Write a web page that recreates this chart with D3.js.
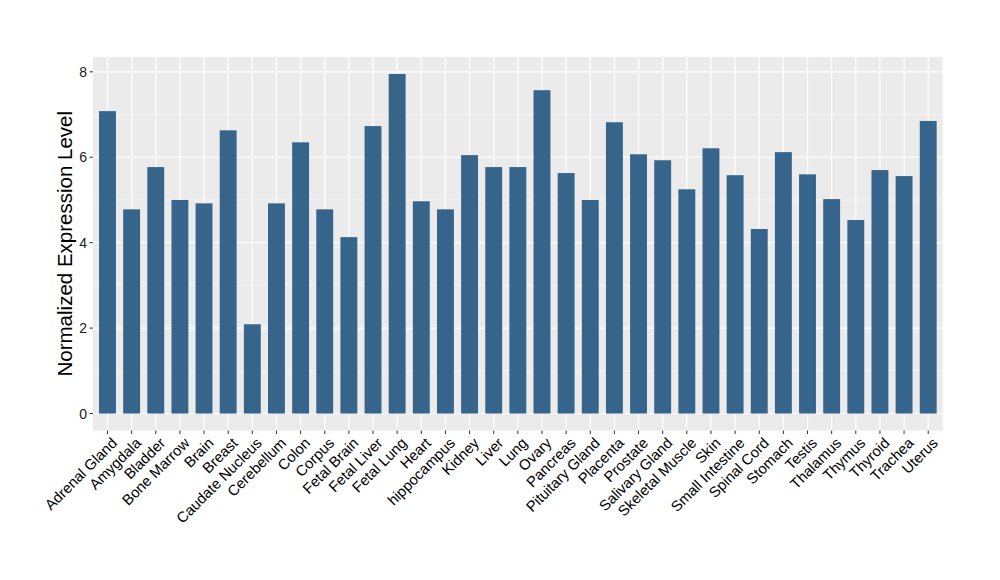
<!DOCTYPE html>
<html><head><meta charset="utf-8">
<script src="https://cdn.jsdelivr.net/npm/d3@7"></script>
<style>body{margin:0;background:#fff}svg{display:block}text{font-family:"Liberation Sans",Arial,sans-serif}</style>
</head><body><svg id="c" width="1000" height="580"></svg>
<script>
const categories = ["Adrenal Gland","Amygdala","Bladder","Bone Marrow","Brain","Breast","Caudate Nucleus","Cerebellum","Colon","Corpus","Fetal Brain","Fetal Liver","Fetal Lung","Heart","hippocampus","Kidney","Liver","Lung","Ovary","Pancreas","Pituitary Gland","Placenta","Prostate","Salivary Gland","Skeletal Muscle","Skin","Small Intestine","Spinal Cord","Stomach","Testis","Thalamus","Thymus","Thyroid","Trachea","Uterus"];
const values = [7.08,4.78,5.77,5.00,4.92,6.63,2.09,4.92,6.35,4.78,4.13,6.73,7.95,4.97,4.78,6.05,5.77,5.77,7.57,5.63,5.00,6.82,6.07,5.93,5.25,6.21,5.58,4.32,6.12,5.60,5.02,4.53,5.70,5.56,6.85];
const yTicks = [0,2,4,6,8];
const yMinor = [1,3,5,7];
const yTitle = "Normalized Expression Level";

const svg = d3.select("#c");
const L = 93, R = 942.7, T = 57, B = 430.5;
const maxV = d3.max(values);
const pad = maxV * 0.05;
const y = d3.scaleLinear().domain([-pad, maxV + pad]).range([B, T]);
const n = categories.length;
const x = d3.scaleLinear().domain([-0.6, n - 1 + 0.6]).range([L, R]);
const step = x(1) - x(0);

svg.append("rect").attr("x", L).attr("y", T).attr("width", R - L).attr("height", B - T).attr("fill", "#EBEBEB");
svg.selectAll(".ymin").data(yMinor).join("line").attr("x1", L).attr("x2", R)
  .attr("y1", d => y(d)).attr("y2", d => y(d)).attr("stroke", "#fff").attr("stroke-width", 0.6);
svg.selectAll(".ymaj").data(yTicks).join("line").attr("x1", L).attr("x2", R)
  .attr("y1", d => y(d)).attr("y2", d => y(d)).attr("stroke", "#fff").attr("stroke-width", 1.2);
svg.selectAll(".xmaj").data(categories).join("line").attr("y1", T).attr("y2", B)
  .attr("x1", (d, i) => x(i)).attr("x2", (d, i) => x(i)).attr("stroke", "#fff").attr("stroke-width", 1.2);

const bw = step * 0.7;
svg.selectAll(".bar").data(values).join("rect")
  .attr("x", (d, i) => x(i) - bw / 2).attr("width", bw)
  .attr("y", d => y(d)).attr("height", d => y(0) - y(d)).attr("fill", "#36648B");

// y axis ticks
svg.selectAll(".yt").data(yTicks).join("line").attr("x1", L - 3.5).attr("x2", L)
  .attr("y1", d => y(d)).attr("y2", d => y(d)).attr("stroke", "#333").attr("stroke-width", 1);
svg.selectAll(".yl").data(yTicks).join("text").attr("x", L - 6).attr("y", d => y(d))
  .attr("dy", "0.36em").attr("text-anchor", "end").attr("font-size", 14).attr("fill", "#1a1a1a").text(d => d);
// x axis ticks
svg.selectAll(".xt").data(categories).join("line").attr("y1", B).attr("y2", B + 3.5)
  .attr("x1", (d, i) => x(i)).attr("x2", (d, i) => x(i)).attr("stroke", "#333").attr("stroke-width", 1);
svg.selectAll(".xl").data(categories).join("text")
  .attr("transform", (d, i) => `translate(${x(i) + 3},${B + 6}) rotate(-45)`)
  .attr("text-anchor", "end").attr("dy", "0.72em").attr("font-size", 14.8).attr("fill", "#000").text(d => d);

svg.append("text").attr("transform", `translate(72,${(T + B) / 2}) rotate(-90)`)
  .attr("text-anchor", "middle").attr("font-size", 20.5).attr("fill", "#000").text(yTitle);
</script></body></html>
